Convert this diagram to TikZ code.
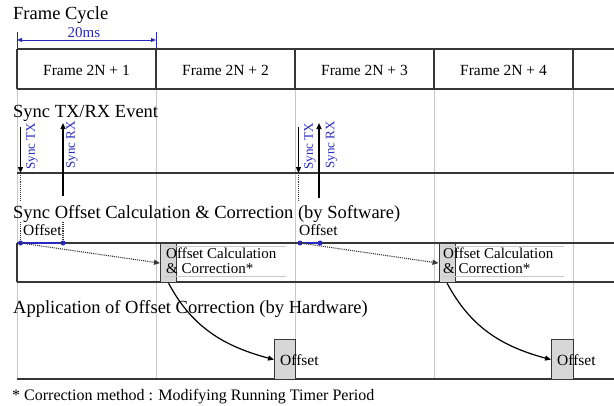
\documentclass[tikz,border=0pt]{standalone}
\usepackage{fontspec}
\setmainfont{Liberation Serif}
\usetikzlibrary{arrows.meta}
\definecolor{sblue}{RGB}{40,40,190}
\definecolor{dline}{RGB}{55,55,55}
\definecolor{gline}{RGB}{200,200,200}
\definecolor{boxfill}{RGB}{215,215,215}
\begin{document}
\begin{tikzpicture}[x=1pt,y=-1pt,
  title/.style={anchor=base west, inner sep=0, font=\fontsize{18.5}{20}\selectfont},
  frm/.style={anchor=base, inner sep=0, font=\fontsize{15.5}{18}\selectfont},
  evt/.style={inner sep=0, rotate=90, text=sblue, font=\fontsize{13}{15}\selectfont},
  small/.style={anchor=base west, inner sep=0, font=\fontsize{15.5}{18}\selectfont},
  calc/.style={anchor=base west, inner sep=0, font=\fontsize{15}{18}\selectfont},
  frameline/.style={draw=dline, line width=1.4pt},
  gridline/.style={draw=gline, line width=1pt},
  faint/.style={draw=gline, line width=0.6pt},
  evarrow/.style={draw=black, line width=1.2pt, -{Triangle[length=6pt,width=5pt]}},
  dotline/.style={draw=dline, densely dotted, line width=1.1pt},
  hbox/.style={draw=dline, fill=boxfill, line width=1.2pt, inner sep=0, anchor=north west},
  dot/.style={circle, fill=sblue, inner sep=0, minimum size=5pt},
  curvearrow/.style={draw=black, line width=1.2pt, -{Triangle[length=6pt,width=5pt]}}
]
\useasboundingbox (0,0) rectangle (614,405);

% grid lines
\foreach \x in {17,156,295,434,573} \draw[gridline] (\x,89) -- (\x,379);

% frame cycle
\node[title] (fc) at (13,19) {Frame Cycle};
\node[anchor=base, inner sep=0, text=sblue, font=\fontsize{15}{18}\selectfont] (ms) at (84,37) {20ms};
\coordinate (a1) at (17,40);
\coordinate (a2) at (156,40);
\coordinate (t1a) at (17,32);  \coordinate (t1b) at (17,49);
\coordinate (t2a) at (156,32); \coordinate (t2b) at (156,49);
\draw[sblue, line width=0.8pt] (t1a) -- (t1b);
\draw[sblue, line width=0.8pt] (t2a) -- (t2b);
\draw[sblue, line width=1pt, {Triangle[length=5pt,width=4pt]}-{Triangle[length=5pt,width=4pt]}] (a1) -- (a2);

% frame row
\draw[frameline] (17,49) -- (614,49);
\draw[frameline] (17,89) -- (614,89);
\foreach \x in {17,156,295,434,573} \draw[frameline] (\x,49) -- (\x,89);
\node[frm] (f1) at (86.5,75) {Frame 2N + 1};
\node[frm] (f2) at (225.5,75) {Frame 2N + 2};
\node[frm] (f3) at (364.5,75) {Frame 2N + 3};
\node[frm] (f4) at (503.5,75) {Frame 2N + 4};

% sync events
\node[title] (s2) at (13,117) {Sync TX/RX Event};
\draw[frameline] (17,173) -- (614,173);

\coordinate (tx1t) at (20.5,127); \coordinate (tx1b) at (20.5,173);
\coordinate (rx1b) at (63,196);   \coordinate (rx1t) at (63,123);
\coordinate (tx2t) at (298.5,127); \coordinate (tx2b) at (298.5,173);
\coordinate (rx2b) at (319,198);   \coordinate (rx2t) at (319,123);
\draw[evarrow] (tx1t) -- (tx1b);
\draw[evarrow] (rx1b) -- (rx1t);
\draw[evarrow] (tx2t) -- (tx2b);
\draw[evarrow] (rx2b) -- (rx2t);
\node[evt] (ltx1) at (32,146) {Sync TX};
\node[evt] (lrx1) at (72,145) {Sync RX};
\node[evt] (ltx2) at (310,146) {Sync TX};
\node[evt] (lrx2) at (331.5,145) {Sync RX};

\draw[dotline] (20.5,173) -- (20.5,201);
\draw[dotline] (298.5,173) -- (298.5,201);
\draw[dotline] (20.5,222) -- (20.5,243);
\draw[dotline] (63,222) -- (63,243);

% software offset
\node[title] (s3) at (13,218) {Sync Offset Calculation \& Correction (by Software)};
\draw[frameline] (17,243) -- (614,243);
\draw[frameline] (17,282) -- (614,282);
\draw[frameline] (17,243) -- (17,282);

\node[small] (o1) at (23,235) {Offset};
\node[small] (o2) at (299,235) {Offset};

\node[hbox, minimum width=16pt, minimum height=39pt] (cb1) at (160,243) {};
\node[hbox, minimum width=16pt, minimum height=39pt] (cb2) at (438.5,243) {};

\node[dot] (d1) at (20.5,243) {};
\node[dot] (d2) at (63,243) {};
\node[dot] (d3) at (300,243) {};
\node[dot] (d4) at (320,243) {};
\draw[sblue, line width=1.2pt] (d1) -- (d2);
\draw[sblue, line width=1.2pt] (d3) -- (d4);

\draw[dotline, -{Triangle[length=6pt,width=5pt]}] (d1.center) -- (cb1.west);
\draw[dotline, -{Triangle[length=6pt,width=5pt]}] (d3.center) -- (cb2.west);

\draw[faint] (164,246.5) -- (286,246.5);
\draw[faint] (164,276.5) -- (286,276.5);
\draw[faint] (442,246.5) -- (564,246.5);
\draw[faint] (442,276.5) -- (564,276.5);
\node[calc] (c1a) at (166,258.5) {Offset Calculation};
\node[calc] (c1b) at (166,273.5) {\& Correction*};
\node[calc] (c2a) at (443,258.5) {Offset Calculation};
\node[calc] (c2b) at (443,273.5) {\& Correction*};

% hardware
\node[title] (s4) at (13,313) {Application of Offset Correction (by Hardware)};
\draw[frameline] (17,379) -- (614,379);
\node[hbox, minimum width=21pt, minimum height=40pt] (hw1) at (274,339) {};
\node[hbox, minimum width=22pt, minimum height=40pt] (hw2) at (551,339) {};
\node[small] (ho1) at (280,365) {Offset};
\node[small] (ho2) at (557,365) {Offset};

\draw[curvearrow] (cb1.south) to[out=-62,in=165] (hw1.west);
\draw[curvearrow] (cb2.south) to[out=-62,in=165] (hw2.west);

% footnote
\node[anchor=base west, inner sep=0, font=\fontsize{16}{18}\selectfont] (fn) at (12,400) {* Correction method : Modifying Running Timer Period};
\end{tikzpicture}
\end{document}
